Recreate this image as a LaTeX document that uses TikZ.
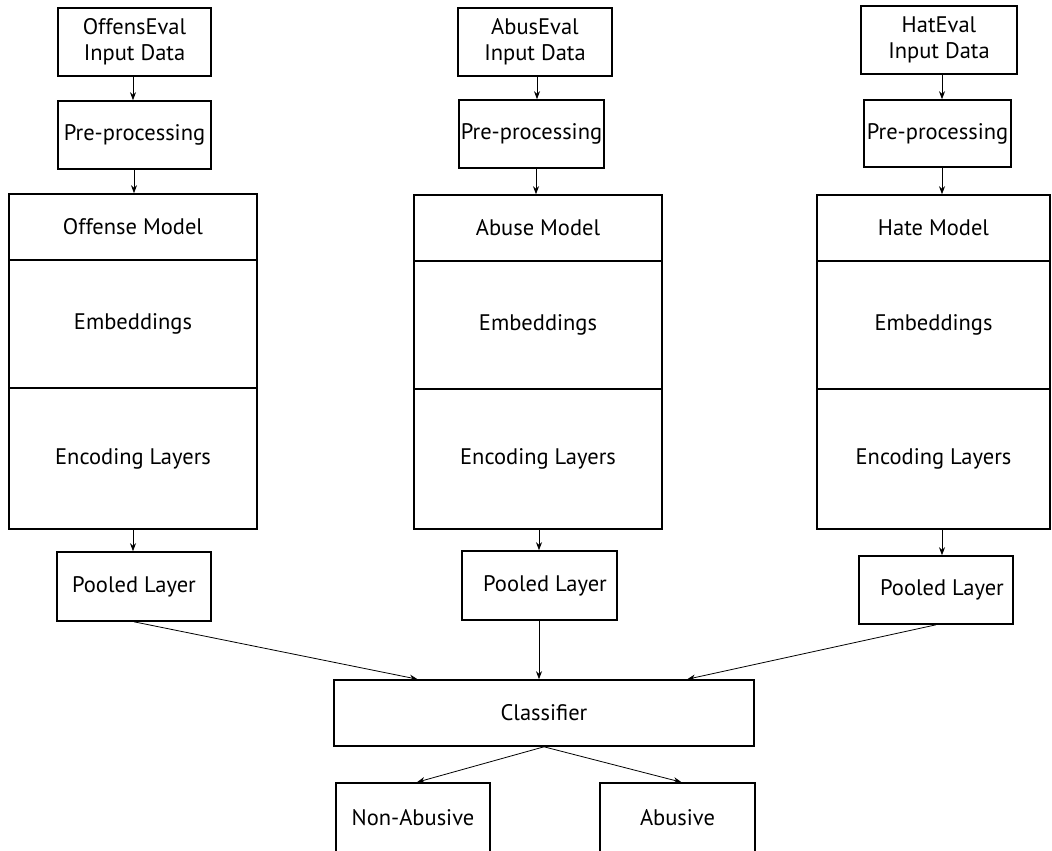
\documentclass[tikz,border=0pt]{standalone}
\usepackage{fontspec}
\setmainfont{PT Sans}
\usetikzlibrary{arrows.meta,calc}
\begin{document}
\begin{tikzpicture}[x=1pt,y=-1pt,
  box/.style={draw,line width=1.6pt,rectangle,inner sep=0pt,font=\fontsize{22.5}{26}\selectfont,align=center},
  arr/.style={line width=0.8pt,-{Stealth[length=8pt,width=6pt]}}]
\useasboundingbox (0,0) rectangle (1052,851);
% column 1
\node[box,minimum width=153,minimum height=68] (in1) at (134.5,42) {OffensEval\\Input Data};
\node[box,minimum width=153,minimum height=68] (pre1) at (134.5,135) {Pre-processing};
\node[box,minimum width=248,minimum height=66] (m1) at (133,227) {Offense Model};
\node[box,minimum width=248,minimum height=128] (e1) at (133,324) {Embeddings};
\node[box,minimum width=248,minimum height=141] (l1) at (133,458.5) {Encoding Layers};
\node[box,minimum width=154,minimum height=69] (pool1) at (134,586.5) {Pooled Layer};
% column 2
\node[box,minimum width=154,minimum height=68] (in2) at (535,42) {AbusEval\\Input Data};
\node[box,minimum width=145,minimum height=68] (pre2) at (531.5,134) {Pre-processing};
\node[box,minimum width=248,minimum height=66] (m2) at (538,228) {Abuse Model};
\node[box,minimum width=248,minimum height=128] (e2) at (538,325) {Embeddings};
\node[box,minimum width=248,minimum height=140] (l2) at (538,459) {Encoding Layers};
\node[box,minimum width=155,minimum height=69] (pool2) at (539.5,585.5) {\hspace*{11pt}Pooled Layer};
% column 3
\node[box,minimum width=156,minimum height=68] (in3) at (939,40) {HatEval\\Input Data};
\node[box,minimum width=147,minimum height=67] (pre3) at (937.5,133.5) {Pre-processing};
\node[box,minimum width=233,minimum height=66] (m3) at (933.5,228) {Hate Model};
\node[box,minimum width=233,minimum height=128] (e3) at (933.5,325) {Embeddings};
\node[box,minimum width=233,minimum height=140] (l3) at (933.5,459) {Encoding Layers};
\node[box,minimum width=154,minimum height=68] (pool3) at (936,590) {\hspace*{12pt}Pooled Layer};
% classifier and outputs
\node[box,minimum width=420,minimum height=66] (cls) at (544,713) {Classifier};
\node[box,minimum width=154,minimum height=70] (na) at (413,818) {Non-Abusive};
\node[box,minimum width=155,minimum height=70] (ab) at (677.5,818) {Abusive};
% arrows
\draw[arr] (in1.south -| 133,0) -- (pre1.north -| 133,0);
\draw[arr] (pre1.south -| 134,0) -- (m1.north -| 134,0);
\draw[arr] (l1.south -| 133,0) -- (pool1.north -| 133,0);
\draw[arr] (in2.south -| 537,0) -- (pre2.north -| 537,0);
\draw[arr] (pre2.south -| 536,0) -- (m2.north -| 536,0);
\draw[arr] (l2.south -| 539,0) -- (pool2.north -| 539,0);
\draw[arr] (in3.south -| 942,0) -- (pre3.north -| 942,0);
\draw[arr] (pre3.south -| 942,0) -- (m3.north -| 942,0);
\draw[arr] (l3.south -| 942,0) -- (pool3.north -| 942,0);
\draw[arr] (pool1.south) -- ($(cls.north west)!0.2!(cls.north east)$);
\draw[arr] (pool2.south -| 539,0) -- (cls.north -| 539,0);
\draw[arr] (pool3.south) -- ($(cls.north west)!0.84!(cls.north east)$);
\draw[arr] (cls.south) -- ($(na.north)+(4,0)$);
\draw[arr] (cls.south) -- ($(ab.north)+(4,0)$);
\end{tikzpicture}
\end{document}
